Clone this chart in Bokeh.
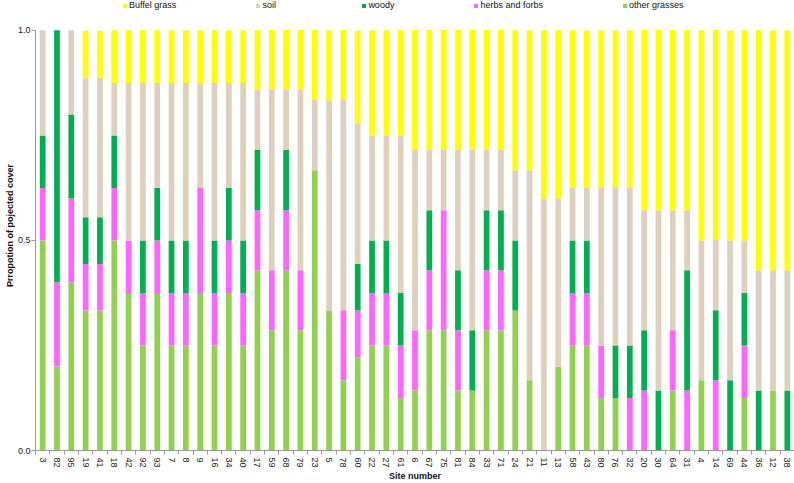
from bokeh.plotting import figure
from bokeh.models import Range1d, FixedTicker, Legend, LegendItem, ColumnDataSource, PrintfTickFormatter
from bokeh.embed import file_html
from bokeh.resources import INLINE

sites = ["3", "82", "95", "19", "41", "18", "42", "92", "93", "7", "8", "9", "16", "34", "40",
         "17", "59", "68", "79", "23", "5", "78", "60", "22", "27", "61", "6", "67", "75", "81",
         "84", "33", "71", "24", "21", "11", "13", "58", "43", "80", "76", "32", "20", "30", "64",
         "31", "4", "14", "69", "44", "36", "12", "38"]

other_grasses = [0.5, 0.2, 0.4, 0.333, 0.333, 0.5, 0.375, 0.25, 0.375, 0.25, 0.25, 0.375, 0.25, 0.375, 0.25,
                 0.429, 0.286, 0.429, 0.286, 0.667, 0.333, 0.167, 0.222, 0.25, 0.25, 0.125, 0.143, 0.286, 0.286, 0.143,
                 0.143, 0.286, 0.286, 0.333, 0.167, 0.0, 0.2, 0.25, 0.25, 0.125, 0.125, 0.0, 0.0, 0.0, 0.143,
                 0.0, 0.167, 0.0, 0.0, 0.125, 0.0, 0.143, 0.0]
herbs_forbs = [0.125, 0.2, 0.2, 0.111, 0.111, 0.125, 0.125, 0.125, 0.125, 0.125, 0.125, 0.25, 0.125, 0.125, 0.125,
               0.143, 0.143, 0.143, 0.143, 0.0, 0.0, 0.167, 0.111, 0.125, 0.125, 0.125, 0.143, 0.143, 0.286, 0.143,
               0.0, 0.143, 0.143, 0.0, 0.0, 0.0, 0.0, 0.125, 0.125, 0.125, 0.0, 0.125, 0.143, 0.0, 0.143,
               0.143, 0.0, 0.167, 0.0, 0.125, 0.0, 0.0, 0.0]
woody = [0.125, 0.6, 0.2, 0.111, 0.111, 0.125, 0.0, 0.125, 0.125, 0.125, 0.125, 0.0, 0.125, 0.125, 0.125,
         0.143, 0.0, 0.143, 0.0, 0.0, 0.0, 0.0, 0.111, 0.125, 0.125, 0.125, 0.0, 0.143, 0.0, 0.143,
         0.143, 0.143, 0.143, 0.167, 0.0, 0.0, 0.0, 0.125, 0.125, 0.0, 0.125, 0.125, 0.143, 0.143, 0.0,
         0.286, 0.0, 0.167, 0.167, 0.125, 0.143, 0.0, 0.143]
soil = [0.25, 0.0, 0.2, 0.333, 0.333, 0.125, 0.375, 0.375, 0.25, 0.375, 0.375, 0.25, 0.375, 0.25, 0.375,
        0.143, 0.429, 0.143, 0.429, 0.167, 0.5, 0.5, 0.333, 0.25, 0.25, 0.375, 0.429, 0.143, 0.143, 0.286,
        0.429, 0.143, 0.143, 0.167, 0.5, 0.6, 0.4, 0.125, 0.125, 0.375, 0.375, 0.375, 0.286, 0.429, 0.286,
        0.143, 0.333, 0.167, 0.333, 0.125, 0.286, 0.286, 0.286]
buffel_grass = [0.0, 0.0, 0.0, 0.111, 0.111, 0.125, 0.125, 0.125, 0.125, 0.125, 0.125, 0.125, 0.125, 0.125, 0.125,
                0.143, 0.143, 0.143, 0.143, 0.167, 0.167, 0.167, 0.222, 0.25, 0.25, 0.25, 0.286, 0.286, 0.286, 0.286,
                0.286, 0.286, 0.286, 0.333, 0.333, 0.4, 0.4, 0.375, 0.375, 0.375, 0.375, 0.375, 0.429, 0.429, 0.429,
                0.429, 0.5, 0.5, 0.5, 0.5, 0.571, 0.571, 0.571]

series_names = ["other grasses", "herbs and forbs", "woody", "soil", "Buffel grass"]
series_colors = ["#92D050", "#FF66FF", "#00B050", "#DDD0BD", "#FFFF00"]

x = list(range(len(sites)))
source = ColumnDataSource(dict(x=x, og=other_grasses, hf=herbs_forbs, wd=woody, sl=soil, bg=buffel_grass))

# y range extends above 1.0 so the legend can sit inside the (unclipped) frame area
p = figure(width=794, height=483, output_backend="svg", toolbar_location=None,
           x_range=Range1d(-0.5, len(sites) - 0.5), y_range=Range1d(0, 452 / 422),
           min_border_left=35, min_border_right=0, min_border_top=0, min_border_bottom=31)
p.outline_line_color = None
p.xgrid.visible = False
p.ygrid.visible = False

renderers = p.vbar_stack(["og", "hf", "wd", "sl", "bg"], x="x", width=0.4, color=series_colors,
                         line_color=None, source=source)

# axes
axis_color = "#999999"
xa = p.xaxis[0]
xa.ticker = FixedTicker(ticks=x, minor_ticks=[i - 0.5 for i in range(len(sites) + 1)])
xa.major_label_overrides = {i: s for i, s in enumerate(sites)}
xa.major_label_orientation = "vertical"
xa.major_tick_out = 0
xa.major_tick_in = 0
xa.minor_tick_out = 4
xa.minor_tick_in = 0
xa.minor_tick_line_color = axis_color
xa.axis_line_color = axis_color
xa.major_label_standoff = 3
xa.major_label_text_font = "Liberation Sans"
xa.major_label_text_font_size = "9px"
xa.major_label_text_color = "#222222"
xa.axis_label = "Site number"
xa.axis_label_text_font = "Liberation Sans"
xa.axis_label_text_font_size = "9px"
xa.axis_label_text_font_style = "bold"
xa.axis_label_text_color = "#111111"
xa.axis_label_standoff = 0

ya = p.yaxis[0]
ya.bounds = (0, 1)
ya.ticker = FixedTicker(ticks=[0, 0.5, 1.0])
ya.formatter = PrintfTickFormatter(format="%.1f")
ya.major_tick_out = 4
ya.major_tick_in = 0
ya.minor_tick_out = 0
ya.minor_tick_in = 0
ya.major_tick_line_color = axis_color
ya.axis_line_color = axis_color
ya.major_label_standoff = 1
ya.major_label_text_font = "Liberation Sans"
ya.major_label_text_font_size = "9px"
ya.major_label_text_color = "#222222"
ya.axis_label = "Prropotion of pojected cover"
ya.axis_label_text_font = "Liberation Sans"
ya.axis_label_text_font_size = "9px"
ya.axis_label_text_font_style = "bold"
ya.axis_label_text_color = "#111111"
ya.axis_label_standoff = 0

order = [4, 3, 2, 1, 0]
legend = Legend(items=[LegendItem(label=series_names[i], renderers=[renderers[i]]) for i in order],
                orientation="horizontal", location=(87, 440), padding=0, margin=0, spacing=79,
                glyph_width=5, glyph_height=5, label_standoff=2, label_height=9,
                label_text_font="Liberation Sans", label_text_font_size="9px",
                label_text_color="#111111", border_line_color=None, background_fill_alpha=0)
p.add_layout(legend, "center")

open("out.html", "w").write(file_html(p, INLINE))
